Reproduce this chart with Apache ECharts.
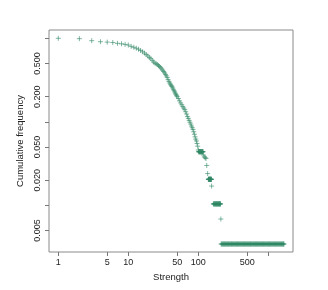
<!DOCTYPE html>
<html><head><meta charset="utf-8">
<script src="https://cdn.jsdelivr.net/npm/echarts@6/dist/echarts.min.js"></script>
<style>html,body{margin:0;padding:0;background:#fff}#c{width:328px;height:290px}</style>
</head><body><div id="c"></div>
<script>
// Main cumulative curve: strength and cumulative frequency P(S >= s)
const strength = [1,2,3,4,5,6,7,8,9,10,11,12,13,14,15,16,17,18,19,20,21,22,23,24,25,26,27,28,29,30,31,32,33,34,35,36,37,38,39,40,41,42,43,44,45,46,47,48,49,50,52,54,56,58,60,62,64,66,68,70,72,74,76,78,80,82,84,86,88,90,92,94,96,98,100,101,102,103,104,105,106,107,108,109,110,111,112,113,114,115,116,117,118,122,126,129,132,136,139,140,141,142,143,144,145,146,147,148,149,150,151,152,153,154,155,164,166,168,170,172,174,176,178,180,182,184,186,188,190,192,194,196,198,200,202,204,206,208,210];
const cumFreq = [1.0,0.99,0.936,0.91,0.90,0.89,0.87,0.86,0.845,0.83,0.80,0.78,0.76,0.74,0.715,0.69,0.665,0.64,0.615,0.59,0.57,0.545,0.52,0.505,0.495,0.485,0.47,0.46,0.445,0.43,0.415,0.40,0.385,0.37,0.355,0.34,0.32,0.305,0.292,0.282,0.273,0.265,0.255,0.245,0.236,0.228,0.22,0.213,0.206,0.20,0.19,0.178,0.168,0.16,0.152,0.146,0.14,0.132,0.124,0.116,0.11,0.104,0.099,0.094,0.089,0.085,0.081,0.076,0.071,0.066,0.062,0.059,0.055,0.051,0.046,0.0438,0.0438,0.0438,0.0438,0.0438,0.0438,0.0438,0.0438,0.0438,0.0438,0.0438,0.0438,0.0438,0.0438,0.0438,0.0438,0.0438,0.040,0.038,0.037,0.0365,0.030,0.024,0.0205,0.0205,0.0205,0.0205,0.0205,0.0205,0.0205,0.0205,0.0205,0.0205,0.0205,0.0205,0.0205,0.0205,0.0205,0.0205,0.017,0.0104,0.0104,0.0104,0.0104,0.0104,0.0104,0.0104,0.0104,0.0104,0.0104,0.0104,0.0104,0.0104,0.0104,0.0104,0.0104,0.0104,0.0104,0.0104,0.0104,0.0104,0.0104,0.0104,0.00685];
// Tail: strengths sharing the lowest cumulative frequency
const tailStrength = [212,216,220,224,228,232,236,240,245,249,254,258,263,268,272,277,282,287,293,298,303,309,314,320,326,332,338,344,350,356,363,369,376,383,390,397,404,411,419,426,434,442,450,458,466,475,483,492,501,510,519,528,538,548,557,567,578,588,599,609,620,632,643,655,666,678,691,703,716,729,742,755,769,783,797,811,826,841,856,871,887,903,919,936,953,970,988,1005,1024,1042,1061,1080,1099,1119,1140,1160,1181,1202,1224,1246,1269,1292,1315,1339,1363,1387,1412,1438,1464,1490,1517,1545,1572,1600,1630,1660,1670];
const tailFreq = 0.00344;

const xTickValues = [1,5,10,50,100,500,1000];
const xTickLabels = ['1','5','10','50','100','500',''];
const yTickValues = [0.005,0.01,0.02,0.05,0.1,0.2,0.5,1];
const yTickLabels = ['0.005','','0.020','0.050','','0.200','0.500',''];

const L = Math.log10;
const pts = strength.map((s,i)=>[L(s),L(cumFreq[i])]).concat(tailStrength.map(s=>[L(s),L(tailFreq)]));

function lab(vals, labels){
  return v => { for (let i=0;i<vals.length;i++){ if (Math.abs(L(vals[i])-v)<1e-6) return labels[i]; } return ''; };
}
const txt = {color:'#222', fontFamily:'Liberation Sans, Arial, sans-serif', fontSize:9};

const chart = echarts.init(document.getElementById('c'), null, {renderer:'canvas'});
chart.setOption({
  animation:false,
  grid:{left:49,right:35,top:30,bottom:38,show:true,borderColor:'#8a8a8a',borderWidth:1,backgroundColor:'transparent'},
  xAxis:{type:'value',min:-0.133,max:3.353,
    name:'Strength',nameLocation:'middle',nameGap:20,nameTextStyle:Object.assign({},txt,{fontSize:9.5}),
    axisLine:{show:false,onZero:false},splitLine:{show:false},
    axisTick:{show:true,length:4,customValues:xTickValues.map(L),lineStyle:{color:'#777'}},
    axisLabel:Object.assign({customValues:xTickValues.map(L),formatter:lab(xTickValues,xTickLabels),margin:6,hideOverlap:false,showMinLabel:true,showMaxLabel:true},txt)},
  yAxis:{type:'value',min:-2.559,max:0.0994,
    name:'Cumulative frequency',nameLocation:'middle',nameGap:16,nameRotate:90,nameTextStyle:Object.assign({},txt,{fontSize:9.5}),
    axisLine:{show:false,onZero:false},splitLine:{show:false},
    axisTick:{show:true,length:4,customValues:yTickValues.map(L),lineStyle:{color:'#777'}},
    axisLabel:Object.assign({customValues:yTickValues.map(L),formatter:lab(yTickValues,yTickLabels),rotate:90,margin:7,hideOverlap:false,showMinLabel:true,showMaxLabel:true},txt)},
  series:[{type:'scatter',data:pts,symbol:'path://M0,5L10,5M5,0L5,10',symbolSize:5,
    itemStyle:{color:'rgba(0,0,0,0)',borderColor:'rgba(46,135,100,0.75)',borderWidth:1},
    emphasis:{disabled:true}}]
});
</script></body></html>
